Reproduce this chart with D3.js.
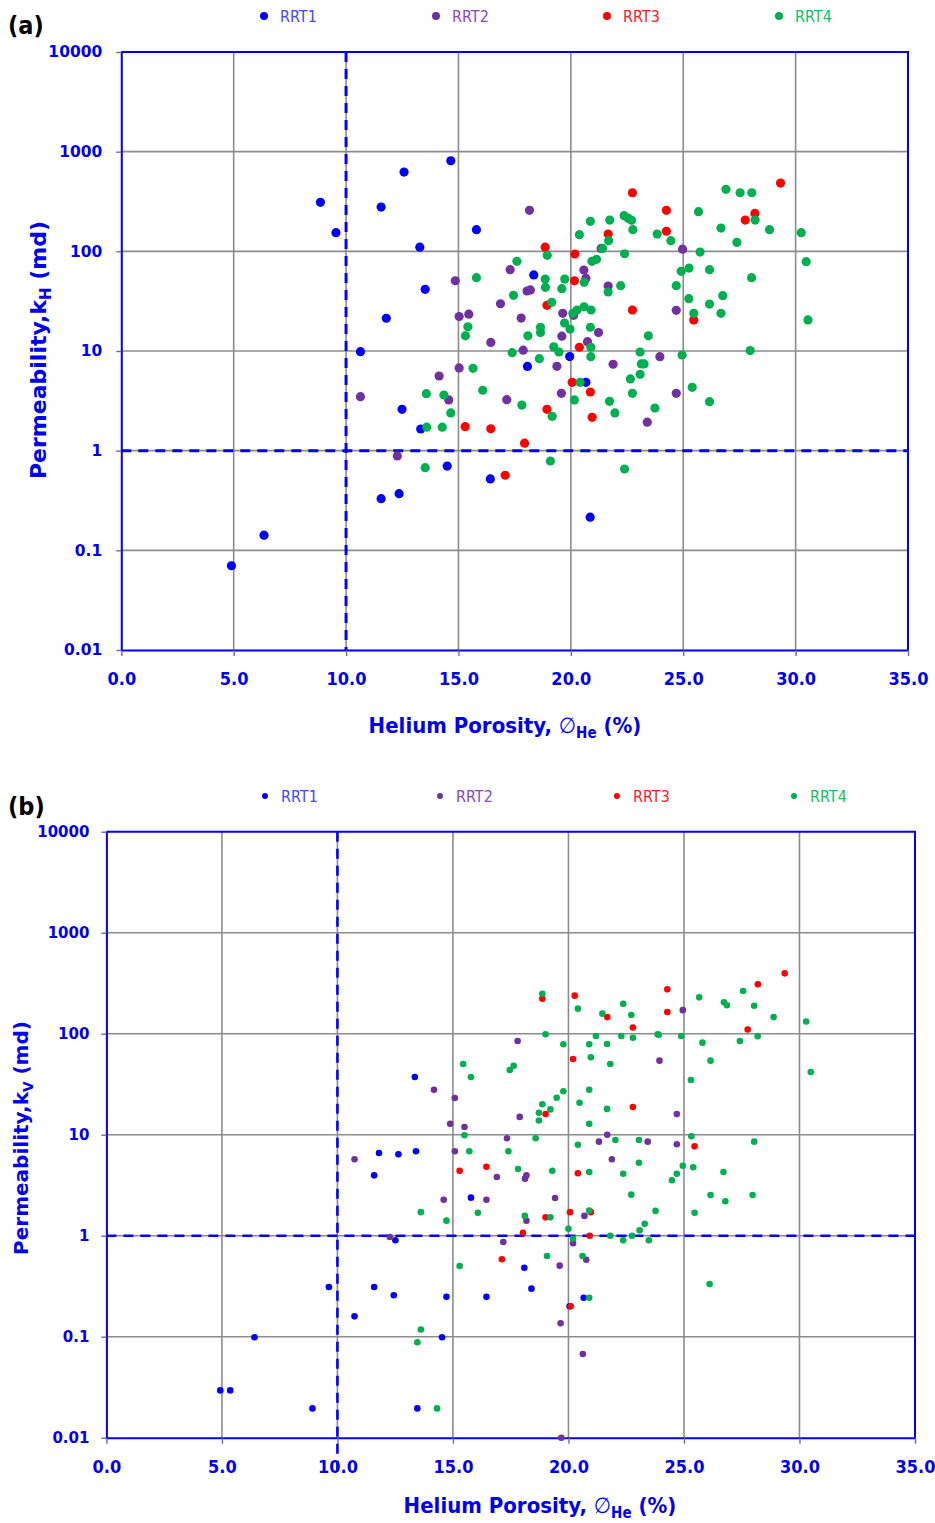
<!DOCTYPE html>
<html>
<head>
<meta charset="utf-8">
<script src="https://cdn.jsdelivr.net/npm/d3@7"></script>
<style>
  body { margin: 0; background: #ffffff; }
  svg { display: block; }
</style>
</head>
<body>
<svg id="chart" width="935" height="1523"></svg>
<script>
// ---- axis ticks and series ----
const phiTicks = [0, 5, 10, 15, 20, 25, 30, 35];
const permTicks = [0.01, 0.1, 1, 10, 100, 1000, 10000];
const seriesNames = ["RRT1", "RRT2", "RRT3", "RRT4"];

// ---- (a) horizontal permeability kH vs helium porosity: [porosity %, kH md] ----
const khRRT1 = [[4.9,0.070],[6.35,0.142],[8.86,310],[9.55,154],[11.56,278],[12.58,624],[14.66,811],[13.28,110],
  [13.52,41.6],[11.79,21.3],[10.64,9.84],[12.49,2.6],[13.32,1.65],[14.5,0.70],[11.56,0.33],[12.36,0.37],
  [15.8,165],[18.35,58],[19.95,8.8],[18.07,7.0],[20.67,4.85],[16.42,0.52],[20.86,0.215]];
const khRRT2 = [[14.86,50.7],[15.03,22.2],[15.03,6.76],[14.14,5.61],[14.57,3.23],[10.64,3.48],[12.28,0.885],
  [18.16,258],[17.3,65.4],[18.05,40],[18.2,41],[16.87,29.8],[15.46,23.4],[17.79,21.4],[19.64,23.9],[20.12,22.8],
  [20.58,64.9],[20.67,53.6],[21.35,107],[21.66,44.9],[19.6,14.1],[21.23,15.3],[20.74,12.4],[16.44,12.2],
  [17.88,10.2],[19.38,7.02],[21.88,7.36],[17.15,3.25],[19.58,3.76],[23.4,1.93],[24.97,105],[24.69,25.6],
  [23.96,8.77],[24.69,3.76]];
const khRRT3 = [[22.74,387],[21.66,149],[18.86,110],[20.18,94],[20.16,50.7],[18.94,28.7],[22.74,25.8],
  [20.38,10.9],[20.06,4.85],[20.87,3.88],[18.94,2.6],[20.95,2.16],[15.3,1.74],[16.44,1.66],[17.94,1.19],
  [17.08,0.567],[24.25,258],[24.25,159],[27.76,206],[28.19,240],[29.33,484],[25.47,20.5]];
const khRRT4 = [[13.57,3.73],[14.35,3.62],[14.66,2.39],[13.59,1.72],[14.28,1.72],[13.52,0.675],[20.87,200],
  [21.73,206],[20.38,147],[22.37,228],[22.55,215],[22.7,205],[22.76,165],[21.68,128],[21.41,107],[18.95,91.2],
  [17.6,79.4],[20.94,79.4],[21.14,83.2],[22.39,94.6],[15.8,54.4],[18.86,52.7],[19.73,52.7],[18.87,43.5],
  [19.6,42.2],[20.59,48.9],[21.66,39.1],[22.22,45.2],[17.45,36.2],[19.15,30.8],[20.09,23.9],[20.27,25.8],
  [20.59,27.8],[20.9,25.8],[19.72,19.1],[19.96,16.6],[20.87,17.3],[15.42,17.5],[15.31,14.2],[18.09,14.2],
  [18.65,17.3],[18.65,15.3],[23.45,14.2],[19.24,11.0],[19.47,9.77],[17.39,9.62],[18.6,8.37],[20.89,10.9],
  [20.89,8.77],[23.08,9.77],[23.14,7.41],[23.26,7.41],[23.08,5.84],[22.65,5.24],[22.74,3.76],[21.72,3.13],
  [21.96,2.39],[23.74,2.68],[20.16,3.23],[20.41,4.85],[17.82,2.87],[16.08,4.04],[15.65,6.7],[19.17,2.21],
  [19.09,0.788],[22.39,0.655],[23.84,149],[26.9,419],[27.53,387],[28.05,387],[25.68,250],[28.2,206],
  [26.68,171],[28.84,165],[30.25,154],[27.39,123],[24.45,128],[25.75,98.4],[30.47,78.7],[24.91,63.0],
  [25.26,68.0],[26.17,65.4],[28.04,54.4],[24.69,45.2],[26.76,35.9],[25.25,33.5],[26.17,29.6],[25.47,23.9],
  [26.68,23.9],[30.55,20.5],[24.95,9.12],[27.98,10.1],[25.4,4.32],[26.17,3.1]];

// ---- (b) vertical permeability kV vs helium porosity: [porosity %, kV md] ----
const kvRRT1 = [[13.35,37.3],[11.8,6.59],[12.64,6.4],[13.4,6.85],[11.59,3.96],[15.78,2.38],[12.51,0.9],
  [9.63,0.31],[11.59,0.31],[12.44,0.257],[10.74,0.159],[14.72,0.249],[16.45,0.249],[14.53,0.0986],
  [6.41,0.0986],[4.93,0.0294],[5.36,0.0294],[8.92,0.0195],[13.46,0.0195],[18.09,0.482],[18.4,0.299],
  [20.66,0.243],[20.05,0.2]];
const kvRRT2 = [[14.18,27.9],[15.08,23.1],[14.88,12.8],[15.5,11.9],[15.08,6.85],[10.74,5.71],[14.6,2.27],
  [16.45,2.27],[12.27,0.97],[17.8,84.7],[17.89,15.0],[17.34,9.21],[16.9,3.81],[18.12,3.67],[18.18,3.96],
  [19.42,2.36],[18.18,1.41],[20.69,1.57],[17.18,0.866],[20.2,0.841],[19.62,0.505],[20.77,0.578],[21.68,10.0],
  [21.32,8.53],[23.43,8.53],[21.88,5.71],[23.94,54.1],[24.95,171],[24.69,16.0],[24.69,8.04],[19.66,0.136],
  [20.62,0.0675],[19.69,0.01]];
const kvRRT3 = [[15.29,4.4],[16.45,4.82],[18.87,222],[20.27,238],[21.68,146],[22.79,115],[20.2,56.2],
  [22.79,18.8],[19.01,16.0],[20.41,4.15],[19.01,1.52],[20.07,1.71],[20.97,1.71],[18.03,1.07],[20.92,1.0],
  [17.12,0.584],[24.28,275],[24.28,164],[28.2,308],[29.36,396],[27.76,110],[25.46,7.67],[20.1,0.2]];
const kvRRT4 = [[15.44,50.1],[15.78,37.3],[15.5,9.86],[15.71,6.85],[13.61,1.71],[14.72,1.41],[15.29,0.501],
  [13.61,0.118],[13.46,0.088],[14.31,0.0195],[18.87,249],[20.41,177],[22.37,198],[21.47,158],[22.72,153],
  [19.01,98.6],[19.78,78.5],[21.19,94.9],[20.9,78.5],[21.67,79.1],[22.29,94.9],[22.79,91.3],[23.86,98.6],
  [20.97,58.4],[21.81,50.1],[17.46,43.7],[17.63,48.2],[19.78,26.9],[19.49,23.2],[20.9,27.9],[20.48,20.7],
  [18.87,20.0],[19.22,17.8],[18.72,16.5],[18.72,13.8],[21.67,18.0],[20.9,12.8],[18.58,9.21],[17.4,6.85],
  [20.41,7.96],[22.03,8.87],[23.05,8.87],[23.05,5.28],[17.82,4.58],[19.3,4.4],[20.9,4.27],[22.37,4.11],
  [22.72,2.55],[23.77,1.76],[23.3,1.31],[23.08,1.13],[22.75,1.0],[22.37,0.9],[23.48,0.9],[21.81,1.0],
  [20.0,1.17],[20.2,0.934],[20.9,1.77],[19.22,1.52],[18.11,1.57],[16.08,1.69],[19.07,0.63],[20.61,0.63],
  [20.9,0.243],[25.66,229],[26.73,205],[26.86,191],[27.56,265],[28.04,189],[28.88,146],[30.29,132],
  [23.91,97.7],[24.88,94.9],[25.8,81.5],[27.42,84.7],[28.19,94.3],[26.15,54.1],[25.3,34.8],[30.49,41.8],
  [25.32,9.64],[28.04,8.53],[24.95,4.93],[25.4,4.76],[24.69,4.11],[24.48,3.54],[26.71,4.27],[26.15,2.53],
  [26.79,2.19],[27.97,2.53],[25.46,1.69],[26.11,0.332]];

// ---- styling ----
const dotColors = ["#0000ff", "#7030a0", "#ff0000", "#00b050"];
const legendTextColors = ["#4646ff", "#8a46bc", "#ff2020", "#10c060"];
const axisBlue = "#0000f0";
const gridGray = "#8c8c8c";
const condensed = "'DejaVu Sans Condensed', 'DejaVu Sans', sans-serif";
const wide = "'DejaVu Sans', Verdana, sans-serif";

const svg = d3.select("#chart");

function permLabel(v) {
  return v >= 1 ? d3.format("d")(v) : String(v);
}

function drawPanel(p) {
  const g = svg.append("g");
  const x = d3.scaleLinear().domain([0, 35]).range([p.left, p.right]);
  const y = d3.scaleLog().domain([0.01, 10000]).range([p.bottom, p.top]);

  // grid
  g.append("g").selectAll("line")
    .data(phiTicks.slice(1, -1)).join("line")
    .attr("x1", d => x(d)).attr("x2", d => x(d))
    .attr("y1", p.top).attr("y2", p.bottom)
    .attr("stroke", gridGray).attr("stroke-width", 1.6);
  g.append("g").selectAll("line")
    .data(permTicks.slice(1, -1)).join("line")
    .attr("x1", p.left).attr("x2", p.right)
    .attr("y1", d => y(d)).attr("y2", d => y(d))
    .attr("stroke", gridGray).attr("stroke-width", 1.6);

  // x axis
  const xa = g.append("g")
    .attr("transform", `translate(0,${p.bottom})`)
    .call(d3.axisBottom(x).tickValues(phiTicks).tickFormat(d3.format(".1f")).tickSize(6).tickSizeOuter(0));
  xa.select(".domain").attr("stroke", axisBlue).attr("stroke-width", 2);
  xa.selectAll(".tick line").attr("stroke", "#6a6a9a").attr("stroke-width", 1.4);
  xa.selectAll(".tick text")
    .attr("y", p.xLabelOffset).attr("dy", "0.36em")
    .attr("fill", axisBlue)
    .style("font-family", condensed).style("font-weight", "bold")
    .style("font-size", p.xTickSize + "px");

  // y axis
  const ya = g.append("g")
    .attr("transform", `translate(${p.left},0)`)
    .call(d3.axisLeft(y).tickValues(permTicks).tickFormat(permLabel).tickSize(5).tickPadding(p.yPad).tickSizeOuter(0));
  ya.select(".domain").attr("stroke", axisBlue).attr("stroke-width", 2);
  ya.selectAll(".tick line").attr("stroke", "#6a6a9a").attr("stroke-width", 1.4);
  ya.selectAll(".tick text")
    .attr("fill", axisBlue)
    .style("font-family", wide).style("font-weight", "bold")
    .style("font-size", p.yTickSize + "px");

  // top and right frame
  g.append("path")
    .attr("d", `M${p.left},${p.top}H${p.right}V${p.bottom}`)
    .attr("fill", "none").attr("stroke", axisBlue).attr("stroke-width", 2);

  // 10 % porosity and 1 md cut-offs
  g.append("line")
    .attr("x1", x(10)).attr("x2", x(10))
    .attr("y1", p.top).attr("y2", p.cutBottom)
    .attr("stroke", "#0000ff").attr("stroke-width", p.dashW)
    .attr("stroke-dasharray", p.dash);
  g.append("line")
    .attr("x1", p.left).attr("x2", p.right)
    .attr("y1", y(1)).attr("y2", y(1))
    .attr("stroke", "#0000ff").attr("stroke-width", p.dashW)
    .attr("stroke-dasharray", p.dash);

  // samples
  p.series.forEach((pts, i) => {
    g.append("g").selectAll("circle")
      .data(pts).join("circle")
      .attr("cx", d => x(d[0])).attr("cy", d => y(d[1]))
      .attr("r", p.r)
      .attr("fill", dotColors[i]);
  });

  // legend
  seriesNames.forEach((name, i) => {
    g.append("circle")
      .attr("cx", p.legendX[i]).attr("cy", p.legendY)
      .attr("r", p.legendR).attr("fill", dotColors[i]);
    g.append("text")
      .attr("x", p.legendX[i] + 16).attr("y", p.legendY).attr("dy", "0.36em")
      .attr("fill", legendTextColors[i])
      .style("font-family", condensed).style("font-size", "16px")
      .text(name);
  });

  // panel tag
  g.append("text")
    .attr("x", 8).attr("y", p.tagY)
    .style("font-family", condensed).style("font-weight", "bold").style("font-size", "25px")
    .attr("fill", "#000")
    .text(p.tag);

  // x title
  const xt = g.append("text")
    .attr("x", p.xTitleX).attr("y", p.xTitleY)
    .attr("text-anchor", "middle")
    .attr("fill", axisBlue)
    .style("font-family", condensed).style("font-weight", "bold").style("font-size", "22px");
  xt.append("tspan").text("Helium Porosity, ");
  xt.append("tspan").style("font-style", "italic").style("font-weight", "normal").text("\u2205");
  xt.append("tspan").attr("dy", 5).style("font-size", "15px").text("He");
  xt.append("tspan").attr("dy", -5).text(" (%)");

  // y title
  const yt = g.append("text")
    .attr("transform", `translate(${p.yTitleX},${p.yTitleY}) rotate(-90)`)
    .attr("text-anchor", "middle")
    .attr("fill", axisBlue)
    .style("font-family", wide).style("font-weight", "bold").style("font-size", p.yTitleSize + "px");
  yt.append("tspan").text("Permeability,k");
  yt.append("tspan").attr("dy", 5).style("font-size", (p.yTitleSize * 0.68) + "px").text(p.sub);
  yt.append("tspan").attr("dy", -5).text(" (md)");
}

drawPanel({
  tag: "(a)", tagY: 34,
  left: 121.3, right: 908, top: 52, bottom: 650,
  series: [khRRT1, khRRT2, khRRT3, khRRT4],
  r: 4.6, legendR: 4, legendY: 16, legendX: [264, 436, 607, 779],
  xLabelOffset: 29, xTickSize: 18, yPad: 14, yTickSize: 15.5,
  dash: "10,7", dashW: 3, cutBottom: 650,
  xTitleX: 505, xTitleY: 733, yTitleX: 46, yTitleY: 350, yTitleSize: 22, sub: "H"
});

drawPanel({
  tag: "(b)", tagY: 815,
  left: 106.4, right: 915, top: 831.7, bottom: 1437.7,
  series: [kvRRT1, kvRRT2, kvRRT3, kvRRT4],
  r: 3.3, legendR: 3, legendY: 796, legendX: [265, 440, 617, 794],
  xLabelOffset: 29, xTickSize: 18, yPad: 12, yTickSize: 15,
  dash: "10,7", dashW: 2.6, cutBottom: 1476,
  xTitleX: 540, xTitleY: 1513, yTitleX: 28, yTitleY: 1138, yTitleSize: 20, sub: "V"
});
</script>
</body>
</html>
